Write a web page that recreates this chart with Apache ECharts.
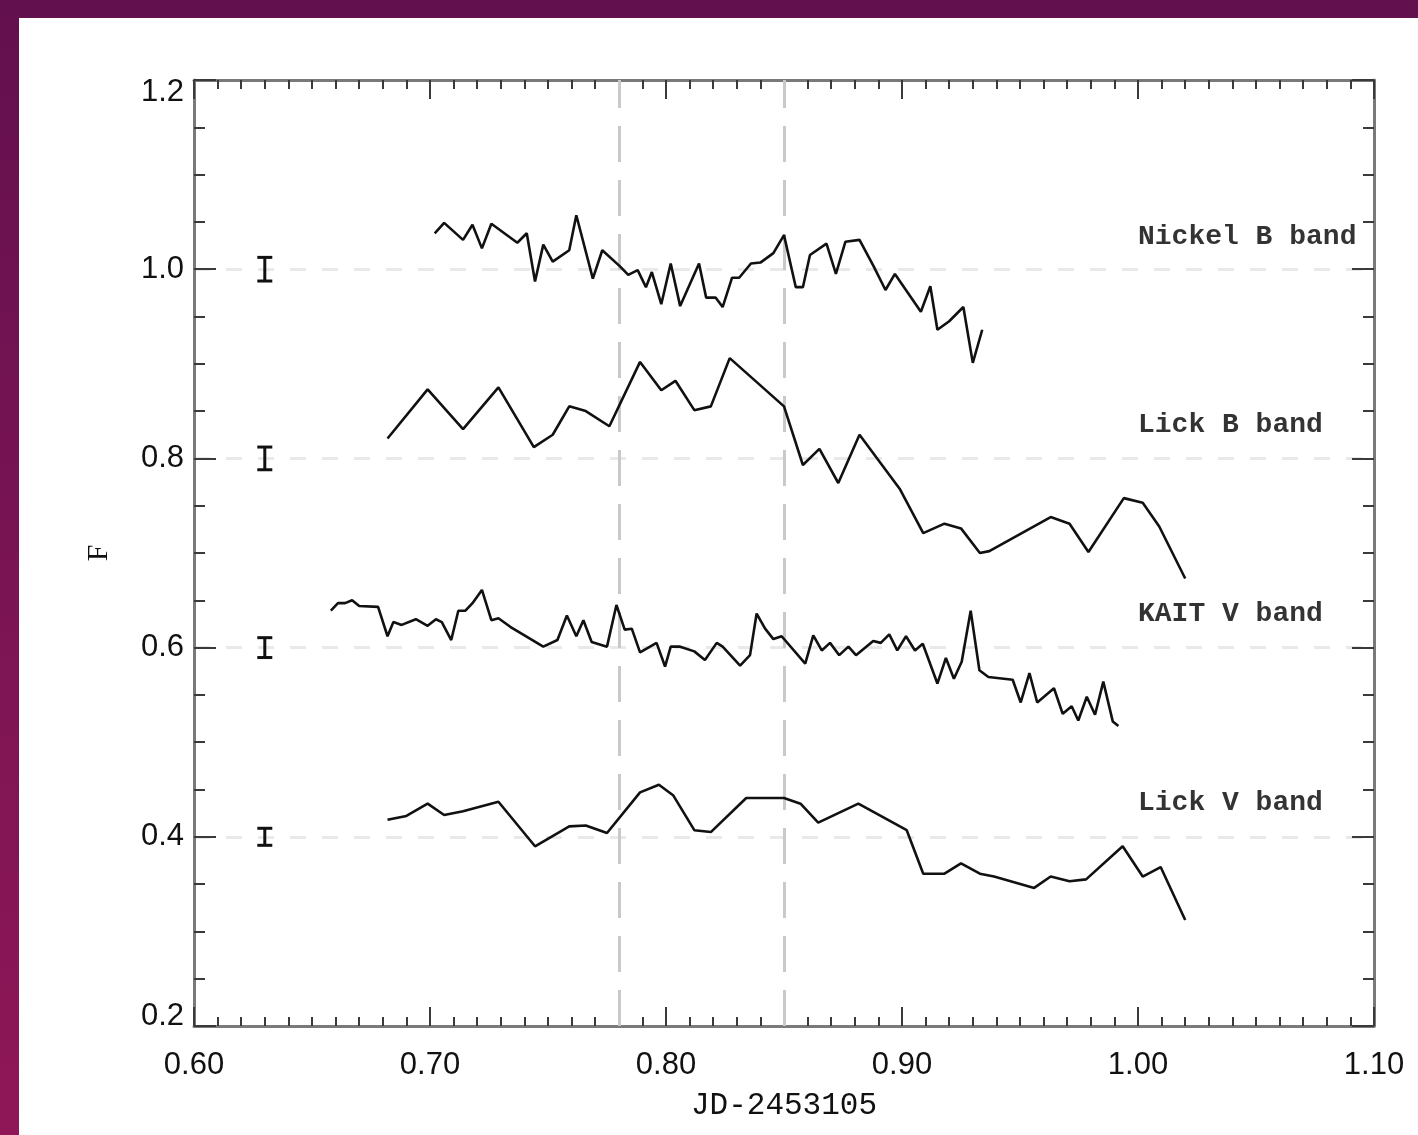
<!DOCTYPE html>
<html>
<head>
<meta charset="utf-8">
<script src="https://cdn.jsdelivr.net/npm/echarts@6/dist/echarts.min.js"></script>
<style>
  html, body { margin: 0; padding: 0; width: 1418px; height: 1135px; overflow: hidden; }
  body { background: linear-gradient(to bottom, #63104f 0%, #7a1453 50%, #8f1757 100%); position: relative; }
  #chart { position: absolute; left: 19px; top: 18px; width: 1399px; height: 1117px; background: #ffffff; }
</style>
</head>
<body>
<div id="chart"></div>
<script>
// ---------------- data ----------------
const nickelB = [
  [0.702,1.038],[0.706,1.049],[0.714,1.031],[0.718,1.047],[0.722,1.022],[0.726,1.048],
  [0.737,1.028],[0.741,1.038],[0.7445,0.987],[0.748,1.026],[0.752,1.008],[0.759,1.020],
  [0.762,1.057],[0.769,0.990],[0.773,1.020],[0.7805,1.003],[0.784,0.994],[0.788,0.999],
  [0.7915,0.981],[0.794,0.997],[0.798,0.963],[0.802,1.006],[0.806,0.961],[0.814,1.006],
  [0.817,0.970],[0.821,0.970],[0.824,0.960],[0.828,0.991],[0.831,0.991],[0.836,1.006],
  [0.840,1.007],[0.8455,1.017],[0.850,1.036],[0.855,0.981],[0.858,0.981],[0.861,1.015],
  [0.868,1.027],[0.872,0.995],[0.876,1.029],[0.882,1.031],[0.888,1.003],[0.893,0.978],
  [0.897,0.995],[0.908,0.955],[0.912,0.982],[0.915,0.936],[0.920,0.945],[0.926,0.960],
  [0.930,0.901],[0.934,0.936]
];
const lickB = [
  [0.682,0.821],[0.699,0.873],[0.714,0.831],[0.729,0.875],[0.744,0.812],[0.752,0.825],
  [0.759,0.855],[0.766,0.850],[0.776,0.834],[0.789,0.902],[0.798,0.872],[0.804,0.882],
  [0.812,0.851],[0.819,0.855],[0.827,0.906],[0.850,0.855],[0.858,0.793],[0.865,0.810],
  [0.873,0.774],[0.882,0.825],[0.899,0.768],[0.909,0.721],[0.918,0.731],[0.925,0.726],
  [0.933,0.700],[0.937,0.702],[0.963,0.738],[0.971,0.731],[0.979,0.701],[0.994,0.758],
  [1.002,0.753],[1.009,0.728],[1.020,0.673]
];
const kaitV = [
  [0.658,0.639],[0.661,0.647],[0.664,0.647],[0.667,0.650],[0.670,0.644],[0.678,0.643],
  [0.682,0.612],[0.6845,0.627],[0.688,0.624],[0.694,0.630],[0.699,0.623],[0.7025,0.630],
  [0.705,0.627],[0.709,0.608],[0.712,0.639],[0.715,0.639],[0.718,0.647],[0.722,0.661],
  [0.726,0.629],[0.729,0.631],[0.734,0.622],[0.748,0.601],[0.754,0.608],[0.758,0.634],
  [0.762,0.612],[0.765,0.629],[0.7685,0.606],[0.775,0.601],[0.779,0.645],[0.7825,0.619],
  [0.7855,0.620],[0.789,0.595],[0.796,0.605],[0.7996,0.580],[0.802,0.601],[0.806,0.601],
  [0.812,0.596],[0.8165,0.587],[0.8215,0.605],[0.824,0.601],[0.8314,0.581],[0.8356,0.592],
  [0.8384,0.636],[0.842,0.620],[0.8455,0.609],[0.849,0.612],[0.859,0.583],[0.8624,0.613],
  [0.866,0.597],[0.8695,0.605],[0.8734,0.592],[0.8773,0.601],[0.8805,0.592],[0.8878,0.607],
  [0.891,0.605],[0.8946,0.614],[0.898,0.597],[0.9017,0.612],[0.9055,0.597],[0.9088,0.604],
  [0.915,0.562],[0.9186,0.589],[0.922,0.567],[0.9253,0.585],[0.9291,0.639],[0.9328,0.576],
  [0.9366,0.569],[0.9469,0.566],[0.9503,0.542],[0.954,0.573],[0.9573,0.542],[0.9644,0.557],
  [0.9681,0.530],[0.9719,0.538],[0.9747,0.523],[0.9783,0.548],[0.9818,0.529],[0.9853,0.564],
  [0.9893,0.522],[0.9917,0.517]
];
const lickV = [
  [0.682,0.418],[0.690,0.422],[0.699,0.435],[0.706,0.423],[0.714,0.427],[0.729,0.437],
  [0.7445,0.390],[0.759,0.411],[0.766,0.412],[0.775,0.404],[0.789,0.447],[0.797,0.455],
  [0.803,0.444],[0.812,0.407],[0.819,0.405],[0.834,0.441],[0.850,0.441],[0.857,0.435],
  [0.8645,0.415],[0.8815,0.435],[0.902,0.407],[0.909,0.361],[0.918,0.361],[0.925,0.372],
  [0.933,0.361],[0.939,0.358],[0.956,0.346],[0.963,0.358],[0.971,0.353],[0.978,0.355],
  [0.9935,0.390],[1.002,0.358],[1.0096,0.368],[1.020,0.312]
];
// error bars: x, y, half-length
const errX = 0.63;
const errY = [1.0, 0.8, 0.6, 0.4];
const errHalf = [0.0125, 0.012, 0.0105, 0.009];
// band labels
const bandLabels = ['Nickel B band', 'Lick B band', 'KAIT V band', 'Lick V band'];
const labelX = 1.0;
const labelY = [1.034, 0.835, 0.636, 0.436];
// reference epochs (vertical dashed lines)
const markEpochs = [0.78, 0.85];
// axis ticks
const xTickLabels = ['0.60', '0.70', '0.80', '0.90', '1.00', '1.10'];
const yTickLabels = ['0.2', '0.4', '0.6', '0.8', '1.0', '1.2'];
const xTitle = 'JD-2453105';
const yTitle = 'F';

// ---------------- chart ----------------
const chart = echarts.init(document.getElementById('chart'), null, { renderer: 'canvas' });

const axisColor = '#7a7a7a';
const tickColor = '#3a3a3a';
const lineColor = '#111111';

function xLabel(v) {
  const i = Math.round((v - 0.6) / 0.1);
  return xTickLabels[i] !== undefined ? xTickLabels[i] : '';
}
function yLabel(v) {
  const i = Math.round((v - 0.2) / 0.2);
  const t = yTickLabels[i];
  if (t === undefined) return '';
  if (i === 0) return '{lo|' + t + '}';
  if (i === yTickLabels.length - 1) return '{hi|' + t + '}';
  return '{n|' + t + '}';
}

const tickFont = "'Liberation Sans', Arial, sans-serif";

const baseX = {
  type: 'value', min: 0.6, max: 1.1, interval: 0.1,
  axisLine: { show: true, onZero: false, lineStyle: { color: axisColor, width: 3 } },
  axisTick: { show: true, inside: true, length: 19, lineStyle: { color: tickColor, width: 2 } },
  minorTick: { show: true, splitNumber: 10, length: 9, lineStyle: { color: tickColor, width: 2 } },
  splitLine: { show: false }
};
const baseY = {
  type: 'value', min: 0.2, max: 1.2, interval: 0.2,
  axisLine: { show: true, onZero: false, lineStyle: { color: axisColor, width: 3 } },
  axisTick: { show: true, inside: true, length: 22, lineStyle: { color: tickColor, width: 2 } },
  minorTick: { show: true, splitNumber: 4, length: 11, lineStyle: { color: tickColor, width: 2 } }
};

function lineSeries(name, data) {
  return {
    name: name, type: 'line', data: data, showSymbol: false, symbol: 'none',
    smooth: false, z: 5,
    lineStyle: { color: lineColor, width: 2.6 },
    itemStyle: { color: lineColor }
  };
}

const errData = errY.map((y, i) => [errX, y, errHalf[i]]);
const labelData = labelY.map((y, i) => ({ value: [labelX, y], name: bandLabels[i] }));

const ytxt = { fontFamily: tickFont, fontSize: 31, color: '#111' };

const option = {
  animation: false,
  backgroundColor: '#ffffff',
  grid: { left: 175, top: 62, right: 44, bottom: 109, containLabel: false },
  xAxis: [
    Object.assign({}, baseX, {
      position: 'bottom',
      name: xTitle, nameLocation: 'middle', nameGap: 64,
      nameTextStyle: { fontFamily: "'Liberation Mono', monospace", fontSize: 31, color: '#111' },
      axisLabel: { show: true, margin: 24, formatter: xLabel,
        fontFamily: tickFont, fontSize: 31, color: '#111' }
    }),
    Object.assign({}, baseX, {
      position: 'top',
      axisLabel: { show: false }
    })
  ],
  yAxis: [
    Object.assign({}, baseY, {
      position: 'left',
      name: yTitle, nameLocation: 'middle', nameGap: 80, nameRotate: 90,
      nameTextStyle: { fontFamily: "'Liberation Serif', serif", fontSize: 30, color: '#111' },
      axisLabel: { show: true, margin: 10, formatter: yLabel,
        fontFamily: tickFont, fontSize: 31, color: '#111',
        rich: {
          n: Object.assign({}, ytxt),
          hi: Object.assign({ padding: [24, 0, 0, 0] }, ytxt),
          lo: Object.assign({ padding: [0, 0, 20, 0] }, ytxt)
        }
      },
      splitLine: { show: true, lineStyle: { color: '#e9e9e9', width: 3, type: [16, 16] } }
    }),
    Object.assign({}, baseY, {
      position: 'right',
      axisLabel: { show: false },
      splitLine: { show: false }
    })
  ],
  series: [
    Object.assign(lineSeries('Nickel B band', nickelB), {
      markLine: {
        silent: true, symbol: ['none', 'none'], animation: false,
        label: { show: false },
        lineStyle: { color: '#c9c9c9', width: 3, type: [36, 18] },
        data: markEpochs.map(v => ({ xAxis: v }))
      }
    }),
    lineSeries('Lick B band', lickB),
    lineSeries('KAIT V band', kaitV),
    lineSeries('Lick V band', lickV),
    {
      name: 'errors', type: 'custom', data: errData, z: 6,
      renderItem: function (params, api) {
        const x = api.value(0), y = api.value(1), h = api.value(2);
        const top = api.coord([x, y + h]);
        const bot = api.coord([x, y - h]);
        const cw = 7.5;
        return {
          type: 'group',
          children: [
            { type: 'line', shape: { x1: top[0], y1: top[1], x2: bot[0], y2: bot[1] }, style: { stroke: '#111', lineWidth: 3 } },
            { type: 'line', shape: { x1: top[0] - cw, y1: top[1], x2: top[0] + cw, y2: top[1] }, style: { stroke: '#111', lineWidth: 3 } },
            { type: 'line', shape: { x1: bot[0] - cw, y1: bot[1], x2: bot[0] + cw, y2: bot[1] }, style: { stroke: '#111', lineWidth: 3 } }
          ]
        };
      }
    },
    {
      name: 'labels', type: 'scatter', data: labelData, symbolSize: 1,
      itemStyle: { color: 'rgba(0,0,0,0)' }, z: 7,
      label: {
        show: true, position: 'inside', align: 'left', verticalAlign: 'middle',
        formatter: p => p.name,
        fontFamily: "'Liberation Mono', monospace", fontWeight: 'bold',
        fontSize: 28, color: '#000', textBorderWidth: 0, textBorderColor: 'transparent'
      }
    }
  ]
};
chart.setOption(option);
</script>
</body>
</html>
